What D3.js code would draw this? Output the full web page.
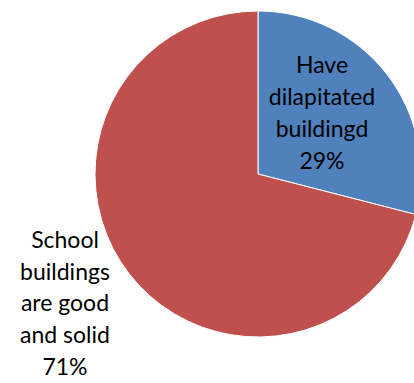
<!DOCTYPE html>
<html>
<head>
<meta charset="utf-8">
<script src="https://cdn.jsdelivr.net/npm/d3@7"></script>
<style>
html,body{margin:0;padding:0;background:#fff;overflow:hidden;}
svg{display:block;}
</style>
</head>
<body>
<div id="chart"></div>
<script>
const categories = ["Have dilapitated buildingd", "School buildings are good and solid"];
const values = [29, 71];
const labelLines = [
  ["Have", "dilapitated", "buildingd", "29%"],
  ["School", "buildings", "are good", "and solid", "71%"]
];
const colors = ["#4F81BD", "#C0504D"];

const W = 414, H = 383;
const cx = 258, cy = 174, R = 163;

const svg = d3.select("#chart").append("svg")
  .attr("width", W).attr("height", H);

const pie = d3.pie().sort(null).value(d => d)(values);
const arc = d3.arc().innerRadius(0).outerRadius(R);

const g = svg.append("g").attr("transform", `translate(${cx},${cy})`);
g.selectAll("path").data(pie).join("path")
  .attr("d", arc)
  .attr("fill", (d, i) => colors[i])
  .attr("stroke", "#fff")
  .attr("stroke-width", 1);

const font = "Lato, 'Open Sans', sans-serif";
const fs = 23;
const labelPos = [{x: 322, y: 73, dy: 32}, {x: 65, y: 248, dy: 31.7}];

labelLines.forEach((lines, i) => {
  const t = svg.append("text")
    .attr("font-family", font)
    .attr("font-size", fs)
    .attr("fill", "#000")
    .attr("text-anchor", "middle");
  lines.forEach((ln, j) => {
    t.append("tspan")
      .attr("x", labelPos[i].x)
      .attr("y", labelPos[i].y + j * labelPos[i].dy)
      .text(ln);
  });
});
</script>
</body>
</html>
